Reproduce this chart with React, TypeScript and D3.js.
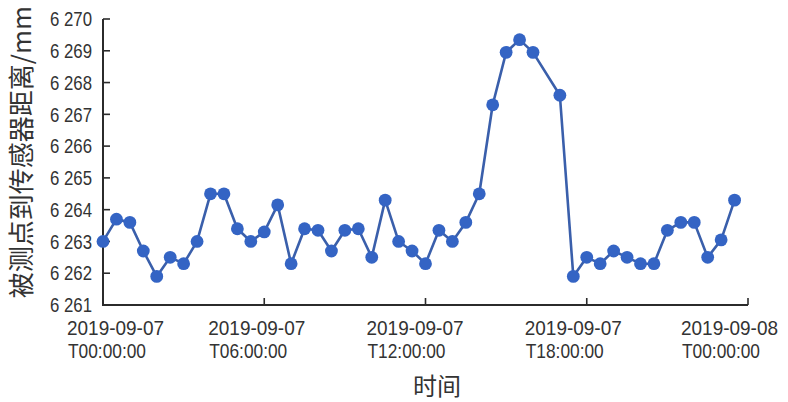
import React from "react";
import * as d3 from "d3";

const times: string[] = [
  "00:00", "00:30", "01:00", "01:30", "02:00", "02:30", "03:00", "03:30",
  "04:00", "04:30", "05:00", "05:30", "06:00", "06:30", "07:00", "07:30",
  "08:00", "08:30", "09:00", "09:30", "10:00", "10:30", "11:00", "11:30",
  "12:00", "12:30", "13:00", "13:30", "14:00", "14:30", "15:00", "15:30",
  "16:00", "17:00", "17:30", "18:00", "18:30", "19:00", "19:30", "20:00",
  "20:30", "21:00", "21:30", "22:00", "22:30", "23:00", "23:30",
];

const distances: number[] = [
  6263.0, 6263.7, 6263.6, 6262.7, 6261.9, 6262.5, 6262.3, 6263.0,
  6264.5, 6264.5, 6263.4, 6263.0, 6263.3, 6264.15, 6262.3, 6263.4,
  6263.35, 6262.7, 6263.35, 6263.4, 6262.5, 6264.3, 6263.0, 6262.7,
  6262.3, 6263.35, 6263.0, 6263.6, 6264.5, 6267.3, 6268.95, 6269.35,
  6268.95, 6267.6, 6261.9, 6262.5, 6262.3, 6262.7, 6262.5, 6262.3,
  6262.3, 6263.35, 6263.6, 6263.6, 6262.5, 6263.05, 6264.3,
];

const yTicks: number[] = [6261, 6262, 6263, 6264, 6265, 6266, 6267, 6268, 6269, 6270];
const xTickDates: string[] = [
  "2019-09-07T00:00:00",
  "2019-09-07T06:00:00",
  "2019-09-07T12:00:00",
  "2019-09-07T18:00:00",
  "2019-09-08T00:00:00",
];
const xLabelOffsets: number[] = [-36, -56, -59, -62, -67];

const yTitle = "被测点到传感器距离/mm";
const xTitle = "时间";

const parseT = d3.timeParse("%Y-%m-%dT%H:%M:%S");
const fmtY = (v: number) => {
  const s = String(v);
  return s.slice(0, 1) + " " + s.slice(1);
};

export default function App() {
  const W = 788;
  const H = 402;
  const x = d3
    .scaleTime()
    .domain([parseT("2019-09-07T00:00:00")!, parseT("2019-09-08T00:00:00")!])
    .range([103, 748]);
  const y = d3.scaleLinear().domain([6261, 6270]).range([305, 19]);

  const pts = times.map((t, i) => ({
    d: parseT("2019-09-07T" + t + ":00")!,
    v: distances[i],
  }));
  const line = d3
    .line<{ d: Date; v: number }>()
    .x((p) => x(p.d))
    .y((p) => y(p.v));

  const axisColor = "#2b2b2b";
  const blue = "#3464c4";
  const tickFont = "'Liberation Sans', Arial, sans-serif";
  const cjkFont = "'Noto Sans CJK SC', 'Noto Sans', sans-serif";

  return (
    <svg
      width={W}
      height={H}
      style={{ position: "absolute", left: 0, top: 0, background: "#fff" }}
    >
      <rect width={W} height={H} fill="#fff" />
      {/* axes */}
      <line x1={x.range()[0]} x2={x.range()[0]} y1={y(6270)} y2={y(6261)} stroke={axisColor} strokeWidth={2} />
      <line x1={x.range()[0] - 1} x2={x.range()[1]} y1={y(6261)} y2={y(6261)} stroke={axisColor} strokeWidth={2} />
      {yTicks.map((t) => (
        <g key={"y" + t}>
          <line x1={x.range()[0]} x2={x.range()[0] + 7} y1={y(t)} y2={y(t)} stroke={axisColor} strokeWidth={1.6} />
          <text
            x={92}
            y={y(t)}
            dy="0.36em"
            textAnchor="end"
            fontFamily={tickFont}
            fontSize={20}
            fill="#333"
            textLength={42}
            lengthAdjust="spacingAndGlyphs"
          >
            {fmtY(t)}
          </text>
        </g>
      ))}
      {xTickDates.map((s, i) => {
        const px = x(parseT(s)!);
        const [date, time] = s.split("T");
        return (
          <g key={"x" + s}>
            <line x1={px} x2={px} y1={y(6261)} y2={y(6261) - 7} stroke={axisColor} strokeWidth={1.6} />
            <text
              x={px + xLabelOffsets[i]}
              y={335}
              fontFamily={tickFont}
              fontSize={21}
              fill="#333"
              textLength={97}
              lengthAdjust="spacingAndGlyphs"
            >
              {date}
            </text>
            <text
              x={px + xLabelOffsets[i] + 1}
              y={358}
              fontFamily={tickFont}
              fontSize={21}
              fill="#333"
              textLength={78}
              lengthAdjust="spacingAndGlyphs"
            >
              {"T" + time}
            </text>
          </g>
        );
      })}
      {/* titles */}
      <text
        x={437}
        y={384}
        dominantBaseline="central"
        textAnchor="middle"
        fontFamily={cjkFont}
        fontSize={24}
        fill="#333"
      >
        {xTitle}
      </text>
      <text
        transform={`translate(19, 152) rotate(-90)`}
        dominantBaseline="central"
        textAnchor="middle"
        fontFamily={cjkFont}
        fontSize={26}
        fill="#333"
      >
        {yTitle}
      </text>
      {/* series */}
      <path d={line(pts) || ""} fill="none" stroke="#3a5fab" strokeWidth={2.6} strokeLinejoin="round" />
      {pts.map((p, i) => (
        <circle key={i} cx={x(p.d)} cy={y(p.v)} r={6.4} fill={blue} />
      ))}
    </svg>
  );
}
